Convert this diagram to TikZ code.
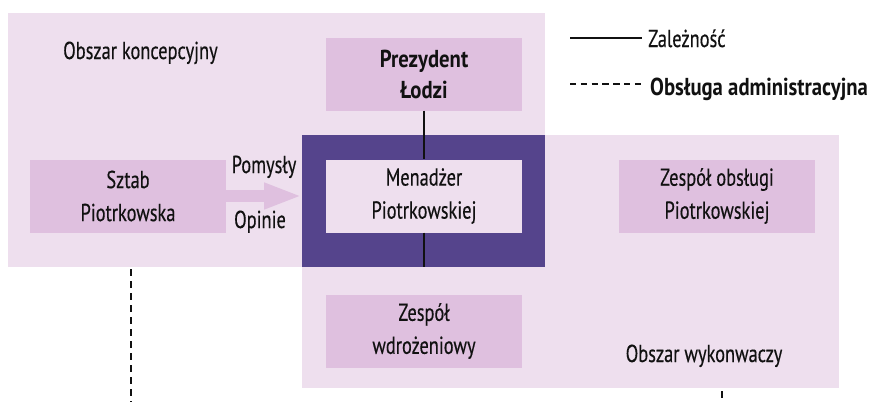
\documentclass[tikz,border=0pt]{standalone}
\usepackage{fontspec}
\setmainfont[FakeStretch=0.75,
  UprightFeatures={FakeBold=0.35},
  BoldFeatures={FakeStretch=0.845}]{PT Sans}
\usetikzlibrary{arrows.meta}
\definecolor{areafill}{HTML}{EEDFEE}
\definecolor{boxfill}{HTML}{DFC0DF}
\definecolor{corefill}{HTML}{55448C}
\definecolor{ink}{HTML}{111111}
\begin{document}
\begin{tikzpicture}[x=1pt,y=-1pt,
  area/.style={fill=areafill, draw=none, inner sep=0pt, anchor=north west},
  unitbox/.style={fill=boxfill, draw=none, minimum width=196pt, minimum height=73pt,
    inner sep=0pt, align=center, text=ink, font=\fontsize{24.5}{33}\selectfont},
  txt/.style={text=ink, inner sep=0pt, font=\fontsize{24.5}{33}\selectfont},
  link/.style={draw=ink, line width=1.2pt},
  service/.style={draw=ink, line width=1.2pt, dash pattern=on 7pt off 5pt},
  legenddash/.style={draw=ink, line width=1.2pt, dash pattern=on 6.3pt off 4.5pt},
  flow/.style={draw=boxfill, line width=12pt, -{Triangle[length=38pt,width=24pt]}},
]
\useasboundingbox (0,0) rectangle (871,402);
\fill[white] (0,0) rectangle (871,402);

% areas
\node[area, minimum width=537pt, minimum height=254pt] (concept) at (8,13) {};
\node[area, minimum width=537pt, minimum height=253pt] (exec) at (302,135) {};
\node[area, fill=corefill, minimum width=243pt, minimum height=132pt] (core) at (302,135) {};

% units
\node[unitbox, font=\fontsize{24.5}{31}\selectfont\bfseries] (pres) at (424,74) {Prezydent\\Łodzi};
\node[unitbox, fill=areafill] (mgr) at (424,196) {Menadżer\\Piotrkowskiej};
\node[unitbox] (staff) at (128,196) {Sztab\\Piotrkowska};
\node[unitbox] (support) at (717,196) {Zespół obsługi\\Piotrkowskiej};
\node[unitbox] (impl) at (424,331) {Zespół\\wdrożeniowy};

% area labels
\node[txt, anchor=base west] (conceptlabel) at (63,59) {Obszar koncepcyjny};
\node[txt, anchor=base] (execlabel) at (704,362) {Obszar wykonwaczy};

% flow of ideas
\draw[flow] (staff.east) -- (staff.east -| core.west);
\node[txt, anchor=base] (ideas) at (264,173) {Pomysły};
\node[txt, anchor=base] (opinions) at (260,228) {Opinie};

% dependencies
\draw[link] (pres.south) -- (mgr.north);
\coordinate (coreBottom) at (mgr.south |- core.south);
\draw[link] (mgr.south) -- (coreBottom);

% administrative service
\coordinate (svcA1) at (131,269);
\coordinate (svcA2) at (131,402);
\draw[service] (svcA1) -- (svcA2);
\coordinate (svcB1) at (722,391);
\coordinate (svcB2) at (722,402);
\draw[service] (svcB1) -- (svcB2);

% legend
\coordinate (legA1) at (570,38);
\coordinate (legA2) at (642,38);
\draw[link] (legA1) -- (legA2);
\node[txt, anchor=base west] (legA) at (648,47) {Zależność};
\coordinate (legB1) at (570,84);
\coordinate (legB2) at (642,84);
\draw[legenddash] (legB1) -- (legB2);
\node[txt, anchor=base west, font=\fontsize{24.5}{33}\selectfont\bfseries] (legB) at (650,95) {Obsługa administracyjna};
\end{tikzpicture}
\end{document}
